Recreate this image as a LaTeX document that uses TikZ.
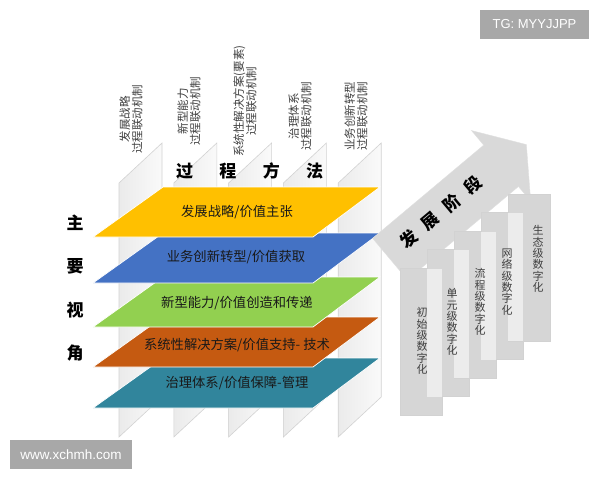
\documentclass[tikz,border=0pt]{standalone}
\usepackage{fontspec}
\setmainfont{Noto Sans CJK SC}
\newfontfamily\latinsans{Liberation Sans}
\definecolor{layeryellow}{HTML}{FFC000}
\definecolor{layerblue}{HTML}{4472C4}
\definecolor{layergreen}{HTML}{92D050}
\definecolor{layerorange}{HTML}{C55A11}
\definecolor{layerteal}{HTML}{31859C}
\definecolor{stagegray}{HTML}{D6D6D6}
\definecolor{stagelight}{HTML}{ECECEC}
\definecolor{arrowgray}{HTML}{D9D9D9}
\definecolor{badgegray}{HTML}{A8A8A8}

\begin{document}
\begin{tikzpicture}[x=1pt,y=-1pt,node distance=43.4pt,
  plane/.style={draw=gray!35,line width=0.6pt,left color=gray!16,right color=gray!4},
  plane label/.style={rotate=90,align=center,inner sep=0pt,font=\fontsize{11.5}{12.5}\selectfont,text=black!75},
  layer/.style={draw=white,line width=0.7pt},
  layer label/.style={font=\fontsize{13.3}{15}\selectfont,text=black!90},
  view label/.style={font=\fontsize{17}{20}\selectfont\bfseries},
  stage box/.style={fill=stagegray,draw=gray!35,line width=0.4pt},
  stage label/.style={align=center,inner sep=0pt,font=\fontsize{11}{11.4}\selectfont,text=black!75},
  badge/.style={fill=badgegray,text=white,inner sep=0pt,minimum height=29pt,font=\latinsans\fontsize{13}{15}\selectfont}]

  \useasboundingbox (0,0) rectangle (600,480);
  \fill[white] (0,0) rectangle (600,480);

  % vertical process planes
  \foreach \i in {0,...,4}{
    \pgfmathsetmacro\px{119+54.8*\i}
    \path[plane] (\px,183) -- (\px+43,143) -- (\px+43,397) -- (\px,437) -- cycle;
  }
  \node[plane label] (p1) at (131,119) {发展战略\\过程联动机制};
  \node[plane label] (p2) at (189,111) {新型能力\\过程联动机制};
  \node[plane label] (p3) at (245,101) {系统性解决方案(要素)\\过程联动机制};
  \node[plane label] (p4) at (300,116) {治理体系\\过程联动机制};
  \node[plane label] (p5) at (356,116) {业务创新转型\\过程联动机制};

  \node[view label] (guo) at (184.5,171) {过};
  \node[view label,right of=guo] (cheng) {程};
  \node[view label,right of=cheng] (fang) {方};
  \node[view label,right of=fang] (fa) {法};

  % layers, bottom first
  \path[layer,fill=layerteal] (93,408) -- (163,358) -- (380,358) -- (313,408) -- cycle;
  \path[layer,fill=layerorange] (93,367) -- (163,317) -- (380,317) -- (313,367) -- cycle;
  \path[layer,fill=layergreen] (93,327) -- (163,277) -- (380,277) -- (313,327) -- cycle;
  \path[layer,fill=layerblue] (93,283) -- (163,233) -- (380,233) -- (313,283) -- cycle;
  \path[layer,fill=layeryellow] (93,237) -- (163,187) -- (380,187) -- (313,237) -- cycle;
  \node[layer label] (gov) at (237,383) {治理体系/价值保障-管理};
  \node[layer label] (sol) at (237,345) {系统性解决方案/价值支持- 技术};
  \node[layer label] (cap) at (237,303) {新型能力/价值创造和传递};
  \node[layer label] (biz) at (236,257) {业务创新转型/价值获取};
  \node[layer label] (strat) at (237,212) {发展战略/价值主张};

  \node[view label] (zhu) at (75,223) {主};
  \node[view label,below of=zhu] (yao) {要};
  \node[view label,below of=yao] (shi) {视};
  \node[view label,below of=shi] (jiao) {角};

  % stage arrow
  \begin{scope}[shift={(390,259)},rotate=40]
    \path[fill=arrowgray,draw=gray!25] (0,-27) -- (145,-27) -- (145,-46) -- (178,0)
      -- (145,46) -- (145,27) -- (0,27) -- cycle;
  \end{scope}
  \node[view label,rotate=40] (stage) at (441,212) {发\hspace{11pt}展\hspace{11pt}阶\hspace{11pt}段};

  % stairs
  \foreach \k in {0,...,4}{
    \path[stage box] (400+27*\k,268-18.5*\k) rectangle ++(42,147);
  }
  \foreach \k in {0,...,3}{
    \fill[stagelight] (427+27*\k,268.5-18.5*\k) rectangle (441.6+27*\k,396.5-18.5*\k);
  }
  \node[stage label] (s1) at (422,341) {初\\始\\级\\数\\字\\化};
  \node[stage label] (s2) at (452,322) {单\\元\\级\\数\\字\\化};
  \node[stage label] (s3) at (480,302) {流\\程\\级\\数\\字\\化};
  \node[stage label] (s4) at (507,282) {网\\络\\级\\数\\字\\化};
  \node[stage label] (s5) at (538,259) {生\\态\\级\\数\\字\\化};

  \node[badge,minimum width=109pt] (tg) at (534.5,24.5) {TG: MYYJJPP};
  \node[badge,minimum width=122pt,font=\latinsans\fontsize{13.5}{15}\selectfont] (site) at (71,454.5) {www.xchmh.com};
\end{tikzpicture}
\end{document}
